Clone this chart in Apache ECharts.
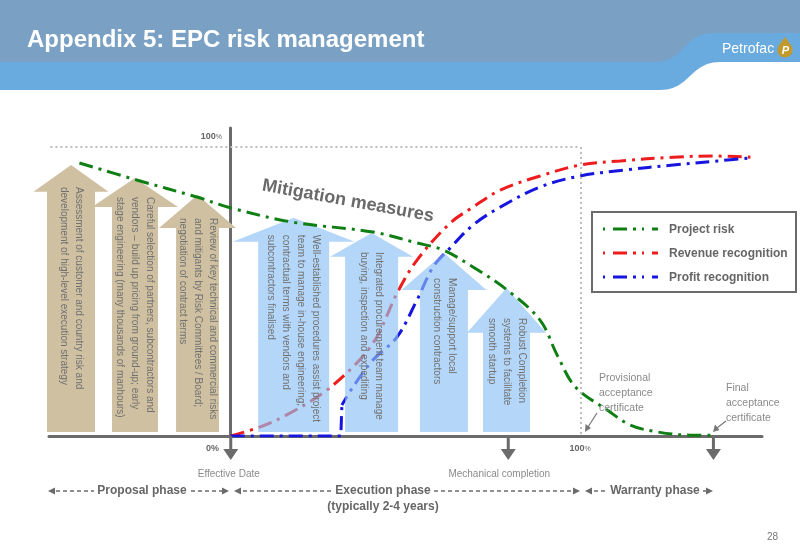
<!DOCTYPE html>
<html><head><meta charset="utf-8">
<script src="https://cdn.jsdelivr.net/npm/echarts@6/dist/echarts.min.js"></script>
<style>html,body{margin:0;padding:0;background:#fff}#c{width:800px;height:554px}</style>
</head><body><div id="c"></div>
<script>
const F = '"Liberation Sans", Arial, Helvetica, sans-serif';

// ---- data (x: 0 = effective date, 100 = provisional acceptance; y: 0..100 %) ----
const seriesNames = ['Project risk', 'Revenue recognition', 'Profit recognition'];
const riskX = [-43.3, -26.9, -9.7, 0.1, 17.8, 40.7, 53.3, 60.7, 69.3, 79.1, 88.5, 93.4, 98.6, 107.7, 114.3, 122.1, 131.5, 138.1];
const riskY = [94.5, 88.6, 82.7, 78.9, 74.0, 70.6, 66.8, 64.4, 58.5, 50.5, 40.1, 28.0, 17.0, 9.0, 3.8, 1.4, 0.3, 0.3];
const revenueX = [0, 8.3, 16.0, 26.4, 36.1, 41.8, 47.6, 53.3, 62.8, 69.3, 77.1, 88.5, 100, 111.5, 126.6, 138.1, 148.7];
const revenueY = [0, 3.1, 7.3, 14.9, 25.3, 34.3, 49.5, 60.9, 73.7, 79.2, 85.1, 90.0, 93.8, 95.2, 96.5, 96.9, 96.5];
const profitStartX = [0, 31.5, 31.8];
const profitStartY = [0, 0, 10.7];
const profitX = [31.8, 35.0, 40.7, 47.6, 53.3, 57.9, 62.8, 69.3, 77.1, 88.5, 100, 112.3, 126.6, 139.3, 148.7];
const profitY = [10.7, 17.0, 26.3, 34.3, 47.1, 58.5, 65.1, 73.0, 79.2, 86.2, 90.0, 92.0, 93.8, 95.2, 96.2];

// mitigation arrows: centre x, tip level, head-base level
const arrowX = [-45.7, -27.4, -9.5, 18.0, 40.3, 61.0, 78.9];
const arrowTip = [93.8, 89.3, 83.4, 75.5, 70.3, 63.3, 51.2];
const arrowBase = [84.5, 79.3, 72.0, 67.2, 62.0, 50.5, 35.7];
const arrowTexts = [
  'Assessment of customer and country risk and\ndevelopment of high-level execution strategy',
  'Careful selection of partners, subcontractors and\nvendors \u2013 build up pricing from ground-up; early\nstage engineering (many thousands of manhours)',
  'Review of key technical and commercial risks\nand mitigants by Risk Committees / Board;\nnegotiation of contract terms',
  'Well-established procedures assist project\nteam to manage in-house engineering;\ncontractual terms with vendors and\nsubcontractors finalised',
  'Integrated procurement team manage\nbuying, inspection and expediting',
  'Manage/support local\nconstruction contractors',
  'Robust Completion\nsystems to facilitate\nsmooth startup'
];
// milestones on the time axis
const milestoneX = [0, 79.4, 138.1];
const milestoneLabels = ['Effective Date', 'Mechanical completion', ''];
const axisTickLabels = ['0%', '100%', '100%'];

// ---- layout / style (pixels) ----
const arrowBodyW = [48, 46, 43, 71, 53, 48, 47];
const arrowHeadW = [75, 86, 77, 122, 83, 85, 79];
const arrowTextOffset = [22, 19, 23, 17, 19, 25, 30];
const milestoneLabelDx = [-2, -9, 0];
const dash = [14, 6, 3, 6];
const GREEN = '#0f7f14', RED = '#ee1c1c', BLUE = '#1616e0', GREY = '#6b6b6b';

const toPairs = (xs, ys) => xs.map((x, i) => [x, ys[i]]);

function bez(p0, p1, p2, p3, n) {
  const out = [];
  for (let k = 0; k <= n; k++) {
    const t = k / n, u = 1 - t;
    out.push([u*u*u*p0[0] + 3*u*u*t*p1[0] + 3*u*t*t*p2[0] + t*t*t*p3[0],
              u*u*u*p0[1] + 3*u*u*t*p1[1] + 3*u*t*t*p2[1] + t*t*t*p3[1]]);
  }
  return out;
}

function renderArrow(params, api) {
  const i = params.dataIndex;
  const tip = api.coord([api.value(0), api.value(1)]);
  const base = api.coord([api.value(0), api.value(2)]);
  const bottom = api.coord([api.value(0), 0])[1] - 4;
  const cx = tip[0], bw = arrowBodyW[i] / 2, hw = arrowHeadW[i] / 2, by = base[1];
  const beige = i < 3;
  return {
    type: 'group',
    children: [
      { type: 'polygon',
        shape: { points: [[cx, tip[1]], [cx + hw, by], [cx + bw, by], [cx + bw, bottom], [cx - bw, bottom], [cx - bw, by], [cx - hw, by]] },
        style: { fill: beige ? '#cfc0a1' : 'rgba(140,192,245,0.65)' } },
      { type: 'text', x: cx, y: tip[1] + arrowTextOffset[i], rotation: -Math.PI / 2,
        style: { text: arrowTexts[i], font: '10px ' + F, fill: '#707070', align: 'left', verticalAlign: 'middle', lineHeight: 15 } }
    ]
  };
}

function renderMilestone(params, api) {
  const i = params.dataIndex;
  const p = api.coord([api.value(0), 0]);
  const x = p[0], y = p[1];
  return {
    type: 'group',
    children: [
      { type: 'line', shape: { x1: x, y1: y, x2: x, y2: y + 15 }, style: { stroke: GREY, lineWidth: 3 } },
      { type: 'polygon', shape: { points: [[x - 7.5, y + 13], [x + 7.5, y + 13], [x, y + 24]] }, style: { fill: GREY } },
      { type: 'text', x: x + milestoneLabelDx[i], y: y + 38,
        style: { text: milestoneLabels[i], font: '10px ' + F, fill: '#8a8a8a', align: 'center', verticalAlign: 'middle' } }
    ]
  };
}

function T(x, y, text, font, fill, align, extra) {
  return Object.assign({ type: 'text', x: x, y: y, z: 50,
    style: { text: text, font: font, fill: fill, align: align || 'left', verticalAlign: 'middle',
             textAlign: align || 'left', textVerticalAlign: 'middle' } }, extra || {});
}
function L(x1, y1, x2, y2, color, w, lineDash) {
  const s = { stroke: color, lineWidth: w };
  if (lineDash) s.lineDash = lineDash;
  return { type: 'line', z: 50, shape: { x1, y1, x2, y2 }, style: s };
}
function P(points, color) {
  return { type: 'polygon', z: 50, shape: { points }, style: { fill: color } };
}

const bandPts = [[0, 62], [655, 62]]
  .concat(bez([655, 62], [685, 62], [682, 33], [714, 33], 24))
  .concat([[800, 33], [800, 62], [720, 62]])
  .concat(bez([720, 62], [690, 62], [690, 90], [660, 90], 24))
  .concat([[0, 90]]);

const graphics = [
  // header
  { type: 'rect', z: 1, shape: { x: 0, y: 0, width: 800, height: 62 }, style: { fill: '#7aa1c3' } },
  { type: 'polygon', z: 2, shape: { points: bandPts }, style: { fill: '#69aadf' } },
  T(27, 40, 'Appendix 5: EPC risk management', 'bold 24px ' + F, '#ffffff'),
  T(722, 49, 'Petrofac', '14px ' + F, '#ffffff'),
  { type: 'polygon', z: 49, shape: { points: [[785, 37], [791.5, 46], [778.5, 46]] }, style: { fill: '#c29a2c' } },
  { type: 'circle', z: 49, shape: { cx: 785, cy: 50, r: 7.6 }, style: { fill: '#c29a2c' } },
  T(785.5, 50.5, 'P', 'italic bold 11px ' + F, '#ffffff', 'center'),
  // axis labels
  { type: 'text', x: 222, y: 137, z: 50, style: { text: '{a|100}{b|%}', align: 'right', verticalAlign: 'middle', textAlign: 'right', textVerticalAlign: 'middle',
      rich: { a: { font: 'bold 9px ' + F, fill: '#666' }, b: { font: '7px ' + F, fill: '#666' } } } },
  T(219, 449, axisTickLabels[0], 'bold 9px ' + F, '#666', 'right'),
  { type: 'text', x: 580, y: 449, z: 50, style: { text: '{a|100}{b|%}', align: 'center', verticalAlign: 'middle', textAlign: 'center', textVerticalAlign: 'middle',
      rich: { a: { font: 'bold 9px ' + F, fill: '#666' }, b: { font: '7px ' + F, fill: '#666' } } } },
  // mitigation heading
  T(348, 201, 'Mitigation measures', 'bold 18px ' + F, '#6a6a6a', 'center', { rotation: -0.18 }),
  // legend
  { type: 'rect', z: 40, shape: { x: 592, y: 212, width: 204, height: 80 }, style: { fill: '#ffffff', stroke: GREY, lineWidth: 2 } },
  L(603, 229, 658, 229, GREEN, 3, [2, 8, 14, 6, 3, 6]),
  L(603, 253, 658, 253, RED, 3, [2, 8, 14, 6, 3, 6]),
  L(603, 277, 658, 277, BLUE, 3, [2, 8, 14, 6, 3, 6]),
  T(669, 230, seriesNames[0], 'bold 12px ' + F, '#666'),
  T(669, 254, seriesNames[1], 'bold 12px ' + F, '#666'),
  T(669, 278, seriesNames[2], 'bold 12px ' + F, '#666'),
  // certificates
  { type: 'text', x: 599, y: 371, z: 50, style: { text: 'Provisional\nacceptance\ncertificate', font: '10.5px ' + F, fill: '#8a8a8a', align: 'left', verticalAlign: 'top', lineHeight: 15, textAlign: 'left', textVerticalAlign: 'top' } },
  { type: 'text', x: 726, y: 381, z: 50, style: { text: 'Final\nacceptance\ncertificate', font: '10.5px ' + F, fill: '#8a8a8a', align: 'left', verticalAlign: 'top', lineHeight: 15, textAlign: 'left', textVerticalAlign: 'top' } },
  L(597, 413, 588, 427, '#777', 1.2),
  P([[585, 432], [585.5, 424], [591, 428]], '#777'),
  L(726, 421, 717, 428, '#777', 1.2),
  P([[713, 432], [715, 424.5], [719.5, 430]], '#777'),
  // phase row
  P([[48, 491], [55, 487.5], [55, 494.5]], GREY), L(56, 491, 94, 491, GREY, 1.5, [4, 3]),
  T(142, 491, 'Proposal phase', 'bold 12px ' + F, '#666', 'center'),
  L(191, 491, 223, 491, GREY, 1.5, [4, 3]), P([[229, 491], [222, 487.5], [222, 494.5]], GREY),
  P([[234, 491], [241, 487.5], [241, 494.5]], GREY), L(243, 491, 332, 491, GREY, 1.5, [4, 3]),
  T(383, 491, 'Execution phase', 'bold 12px ' + F, '#666', 'center'),
  L(434, 491, 574, 491, GREY, 1.5, [4, 3]), P([[580, 491], [573, 487.5], [573, 494.5]], GREY),
  P([[585, 491], [592, 487.5], [592, 494.5]], GREY), L(594, 491, 607, 491, GREY, 1.5, [4, 3]),
  T(655, 491, 'Warranty phase', 'bold 12px ' + F, '#666', 'center'),
  L(703, 491, 707, 491, GREY, 1.5, [4, 3]), P([[713, 491], [706, 487.5], [706, 494.5]], GREY),
  T(383, 507, '(typically 2-4 years)', 'bold 12px ' + F, '#666', 'center'),
  T(778, 537, '28', '10px ' + F, '#777', 'right')
];

const lineCommon = { type: 'line', showSymbol: false, symbol: 'none', animation: false, silent: true };

const chart = echarts.init(document.getElementById('c'));
chart.setOption({
  animation: false,
  backgroundColor: '#ffffff',
  grid: { left: 49, right: 38, top: 128, bottom: 118 },
  xAxis: { type: 'value', min: -52, max: 152, axisLine: { onZero: true, lineStyle: { color: GREY, width: 3 } },
    axisTick: { show: false }, axisLabel: { show: false }, splitLine: { show: false } },
  yAxis: { type: 'value', min: 0, max: 106.6, axisLine: { show: true, onZero: true, lineStyle: { color: GREY, width: 3 } },
    axisTick: { show: false }, axisLabel: { show: false }, splitLine: { show: false } },
  series: [
    Object.assign({}, lineCommon, { name: seriesNames[1], z: 2, smooth: 0.35, data: toPairs(revenueX, revenueY),
      lineStyle: { color: RED, width: 3, type: dash },
      markLine: { silent: true, symbol: ['none', 'none'], label: { show: false }, animation: false,
        lineStyle: { color: '#bdbdbd', width: 2, type: [2, 3] },
        data: [[{ coord: [-51.6, 100] }, { coord: [100, 100] }], [{ coord: [100, 100] }, { coord: [100, 0] }]] } }),
    Object.assign({}, lineCommon, { name: seriesNames[2], z: 2, smooth: false, data: toPairs(profitStartX, profitStartY),
      lineStyle: { color: BLUE, width: 3, type: dash } }),
    Object.assign({}, lineCommon, { name: seriesNames[2], z: 2, smooth: 0.35, data: toPairs(profitX, profitY),
      lineStyle: { color: BLUE, width: 3, type: dash, dashOffset: 4 } }),
    { type: 'custom', name: 'Mitigation', z: 3, silent: true, renderItem: renderArrow, clip: false,
      data: arrowX.map((x, i) => [x, arrowTip[i], arrowBase[i]]) },
    Object.assign({}, lineCommon, { name: seriesNames[0], z: 4, smooth: 0.35, data: toPairs(riskX, riskY),
      lineStyle: { color: GREEN, width: 3, type: dash } }),
    { type: 'custom', name: 'Milestones', z: 5, silent: true, renderItem: renderMilestone, clip: false,
      data: milestoneX.map(x => [x, 0]) }
  ],
  graphic: graphics
});
</script></body></html>
